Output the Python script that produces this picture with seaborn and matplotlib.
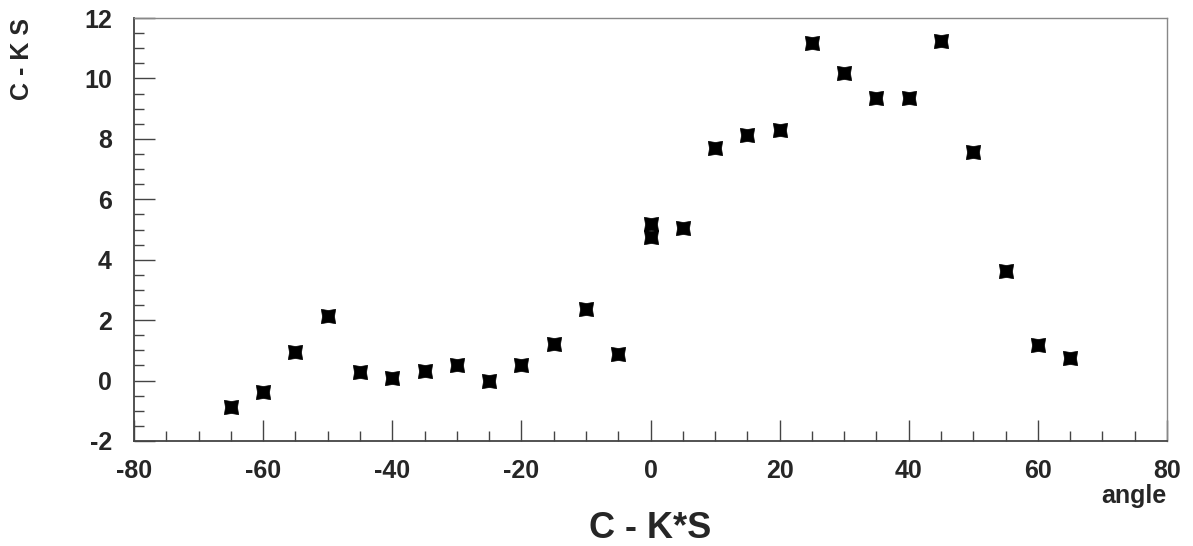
import numpy as np
import pandas as pd
import matplotlib
matplotlib.use("Agg")
import matplotlib.pyplot as plt
from matplotlib.path import Path
from matplotlib.ticker import MultipleLocator
import seaborn as sns

# measured points
angle = [-65, -60, -55, -50, -45, -40, -35, -30, -25, -20, -15, -10, -5,
         0, 0, 5, 10, 15, 20, 25, 30, 35, 40, 45, 50, 55, 60, 65]
cks = [-0.87, -0.38, 0.94, 2.14, 0.30, 0.07, 0.31, 0.50, 0.00, 0.50, 1.20, 2.37, 0.88,
       5.18, 4.74, 5.04, 7.70, 8.13, 8.30, 11.18, 10.18, 9.36, 9.36, 11.24, 7.55, 3.63, 1.18, 0.75]

x_ticks = [-80, -60, -40, -20, 0, 20, 40, 60, 80]
y_ticks = [-2, 0, 2, 4, 6, 8, 10, 12]

df = pd.DataFrame({"angle": angle, "cks": cks})

sns.set_style("ticks")
plt.rcParams["font.family"] = ["Liberation Sans", "DejaVu Sans"]
plt.rcParams["font.weight"] = "bold"

# square with slightly pinched sides
p = 0.84
verts = [(-1, -1), (0, -p), (1, -1), (p, 0), (1, 1), (0, p), (-1, 1), (-p, 0), (-1, -1)]
codes = [Path.MOVETO] + [Path.LINETO] * 7 + [Path.CLOSEPOLY]
pinched = Path(verts, codes)

fig = plt.figure(figsize=(11.93, 5.46), dpi=100)
ax = fig.add_axes([134 / 1193, 1 - 441 / 546, (1167 - 134) / 1193, (441 - 18) / 546])

sns.scatterplot(data=df, x="angle", y="cks", ax=ax, marker=pinched, s=105,
                color="black", edgecolor="black", linewidth=0.5, legend=False, zorder=3)

ax.set_xlim(-80, 80)
ax.set_ylim(-2, 12)
ax.set_xticks(x_ticks)
ax.set_yticks(y_ticks)
ax.set_xticklabels([str(v) for v in x_ticks])
ax.set_yticklabels([str(v) for v in y_ticks])
ax.xaxis.set_minor_locator(MultipleLocator(5))
ax.yaxis.set_minor_locator(MultipleLocator(0.5))

ax.tick_params(axis="both", which="major", direction="in", length=15, width=1.0,
               color="#444444", labelsize=18, top=False, right=False)
ax.tick_params(axis="both", which="minor", direction="in", length=7.5, width=1.0,
               color="#444444", top=False, right=False)
ax.tick_params(axis="x", which="major", pad=13)
ax.tick_params(axis="y", which="major", pad=16)
for lab in ax.get_xticklabels() + ax.get_yticklabels():
    lab.set_fontweight("bold")

for side in ["left", "bottom"]:
    ax.spines[side].set_color("#444444")
    ax.spines[side].set_linewidth(1.3)
for side in ["top", "right"]:
    ax.spines[side].set_visible(True)
    ax.spines[side].set_color("#888888")
    ax.spines[side].set_linewidth(1.0)

ax.set_xlabel("")
ax.set_ylabel("")

fig.text(650 / 1193, 1 - 528 / 546, "C - K*S", ha="center", va="center",
         fontsize=26, fontweight="bold")
fig.text(22 / 1193, 1 - 59 / 546, "C - K S", ha="center", va="center",
         rotation=90, fontsize=18, fontweight="bold")
fig.text(1167 / 1193, 1 - 496 / 546, "angle", ha="right", va="center",
         fontsize=18, fontweight="bold")

fig.savefig("out.png", dpi=100, facecolor="white")
